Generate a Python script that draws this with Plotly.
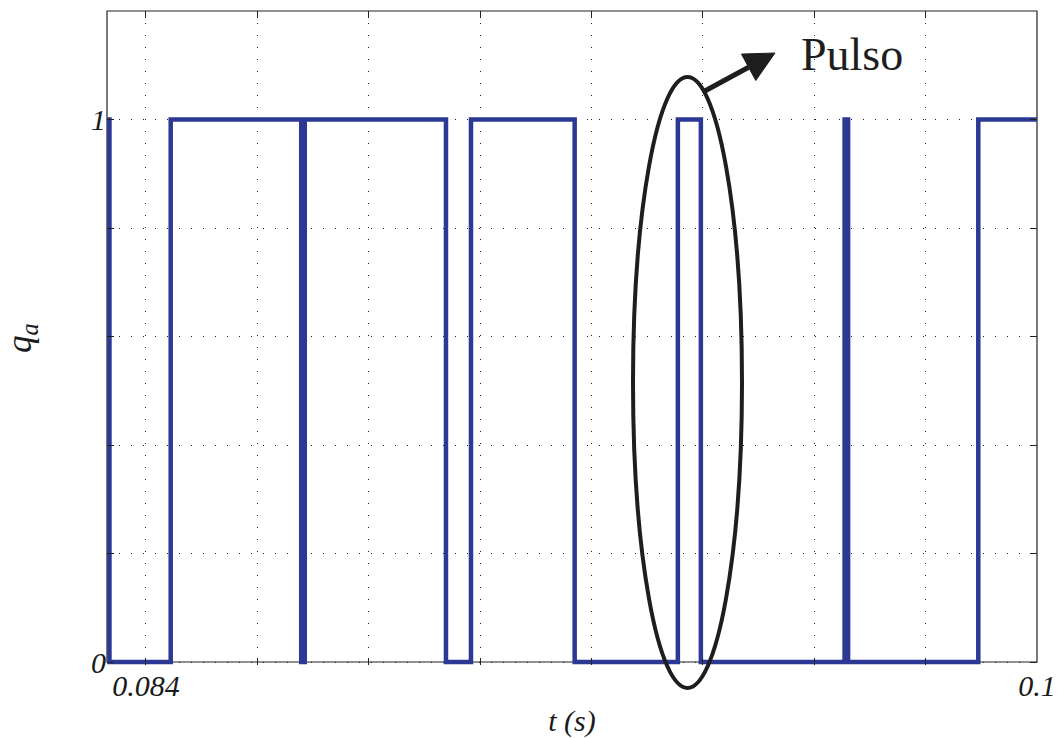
import plotly.graph_objects as go

# Switching signal q_a: instants where the state changes and the new state
t_switch = [0.08330, 0.083344, 0.084444, 0.086788, 0.086851, 0.089387, 0.089836,
            0.091698, 0.093551, 0.093964, 0.096545, 0.096608, 0.098946, 0.1000]
q_state = [1, 0, 1, 0, 1, 0, 1, 0, 1, 0, 1, 0, 1, 1]

x_tickvals = [0.084, 0.086, 0.088, 0.090, 0.092, 0.094, 0.096, 0.098, 0.100]
x_ticktext = ["0.084", " ", " ", " ", " ", " ", " ", " ", "0.1"]
y_tickvals = [0, 0.2, 0.4, 0.6, 0.8, 1.0]
y_ticktext = ["0", " ", " ", " ", " ", "1"]

W, H = 1057, 738
ML, MR, MT, MB = 107, 20, 11, 73
PW, PH = W - ML - MR, H - MT - MB
Y_TOP = 1.2
Y_ZERO_PX = 662
Y_MIN = -(H - MB - Y_ZERO_PX) * Y_TOP / (Y_ZERO_PX - MT)


def px(x):
    return (x - ML) / PW


def py(y):
    return (H - MB - y) / PH


serif = "Liberation Serif, Times New Roman, serif"
tick_font = dict(family=serif, size=30, color="#1a1a1a", style="italic")

fig = go.Figure()
fig.add_trace(go.Scatter(
    x=t_switch, y=q_state, mode="lines", line_shape="hv",
    line=dict(color="#2b3894", width=4.5), showlegend=False,
))

axis_common = dict(
    showline=False, zeroline=False, mirror="ticks", automargin=False,
    ticks="inside", ticklen=7, tickwidth=1, tickcolor="#222",
    showgrid=True, gridcolor="#222", gridwidth=1.2, griddash="1px,11px",
    tickfont=tick_font,
)
fig.update_xaxes(range=[0.0833, 0.1], tickvals=x_tickvals, ticktext=x_ticktext,
                 title=dict(text="t (s)", font=tick_font, standoff=12),
                 **axis_common)
fig.update_yaxes(range=[Y_MIN, Y_TOP], tickvals=y_tickvals, ticktext=y_ticktext,
                 title=dict(text="q<sub>a</sub>", font=dict(tick_font, size=35), standoff=50),
                 **axis_common)

# Axes box
fig.add_shape(type="rect", xref="paper", yref="paper",
              x0=0, x1=1, y0=py(Y_ZERO_PX), y1=1,
              line=dict(color="#222", width=1.2), layer="below")

# Ellipse around the narrow pulse
fig.add_shape(type="circle", xref="paper", yref="paper",
              x0=px(633), x1=px(742), y0=py(688), y1=py(77),
              line=dict(color="#1e1e1e", width=4))

# Arrow pointing to the label
tip = (775, 53)
start = (703, 92)
dx, dy = tip[0] - start[0], tip[1] - start[1]
L = (dx ** 2 + dy ** 2) ** 0.5
ux, uy = dx / L, dy / L
head_len, head_half = 30, 15
bx, by = tip[0] - head_len * ux, tip[1] - head_len * uy
c1 = (bx + head_half * (-uy), by + head_half * ux)
c2 = (bx - head_half * (-uy), by - head_half * ux)
fig.add_shape(type="line", xref="paper", yref="paper",
              x0=px(start[0]), y0=py(start[1]), x1=px(bx), y1=py(by),
              line=dict(color="#1e1e1e", width=5))
fig.add_shape(type="path", xref="paper", yref="paper",
              path=(f"M {px(tip[0])} {py(tip[1])} L {px(c1[0])} {py(c1[1])} "
                    f"L {px(c2[0])} {py(c2[1])} Z"),
              fillcolor="#1e1e1e", line=dict(color="#1e1e1e", width=1))

fig.add_annotation(text="Pulso", xref="paper", yref="paper",
                   x=px(852), y=py(54), xanchor="center", yanchor="middle",
                   showarrow=False, font=dict(family=serif, size=46, color="#1e1e1e"))

fig.update_layout(
    width=W, height=H, margin=dict(l=ML, r=MR, t=MT, b=MB),
    paper_bgcolor="white", plot_bgcolor="rgba(0,0,0,0)",
)

fig.write_html("out.html")
